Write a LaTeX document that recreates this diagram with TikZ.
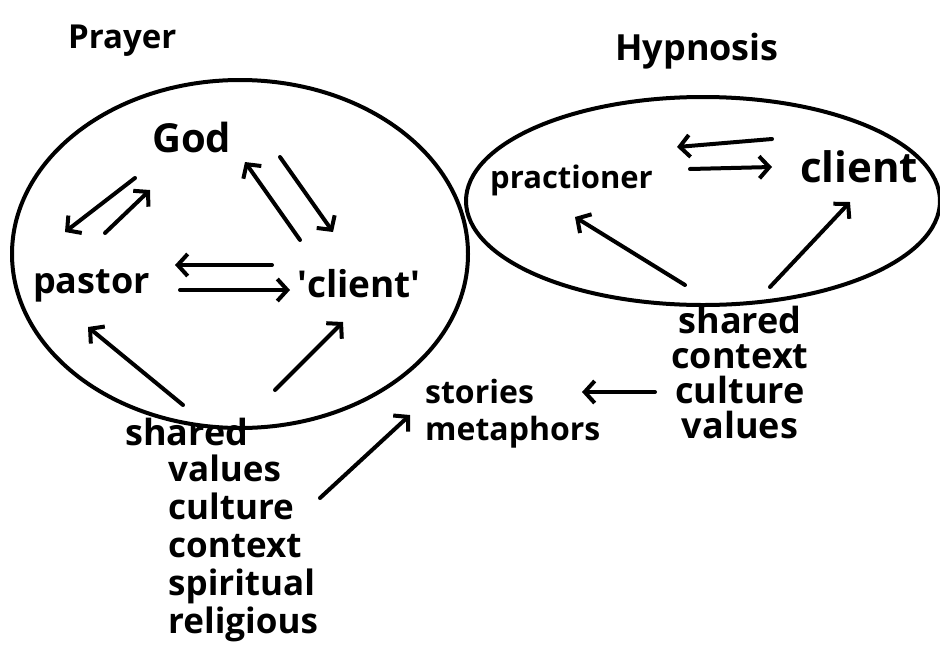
\documentclass[tikz,border=0pt]{standalone}
\usepackage{fontspec}
\setmainfont{Open Sans}
\usepackage{tikz}
\usetikzlibrary{positioning, arrows.meta}

\tikzset{
    hand/.style={line width=4pt, line cap=round, line join=round},
    arr/.style={hand, -{Straight Barb[length=10pt,width=22pt]}},
    word/.style={inner sep=0pt, anchor=base west},
}

\begin{document}
\begin{tikzpicture}[x=1pt,y=-1pt]
        \useasboundingbox (0,0) rectangle (940,646);
        % the two circles
        \draw[hand] (240,254) ellipse [x radius=228pt, y radius=174pt];
        \draw[hand] (703,201) ellipse [x radius=237pt, y radius=104pt];
        % titles
        \node[word, font=\bfseries\fontsize{33}{36}\selectfont] (prayer) at (68,48) {Prayer};
        \node[word, font=\bfseries\fontsize{36}{40}\selectfont] (hypnosis) at (615,60) {Hypnosis};
        % prayer
        \node[word, font=\bfseries\fontsize{40}{44}\selectfont] (god) at (152,152) {God};
        \node[word, font=\bfseries\fontsize{36}{39}\selectfont] (pastor) at (33,293) {pastor};
        \node[word, font=\bfseries\fontsize{37}{40}\selectfont] (lclient) at (297,297)
            {\textquotesingle client\textquotesingle};
        \node[word, font=\bfseries\fontsize{36}{40}\selectfont] (lshared) at (125,445) {shared};
        % base of a multi-line node = its last line
        \node[word, align=left, font=\bfseries\fontsize{35}{38}\selectfont] (llist) at (168,633)
            {values\\culture\\context\\spiritual\\religious};
        % hypnosis
        \node[word, font=\bfseries\fontsize{31}{35}\selectfont] (prac) at (490,188) {practioner};
        \node[word, font=\bfseries\fontsize{42}{46}\selectfont] (rclient) at (800,182) {client};
        \node[inner sep=0pt, anchor=base, align=center, font=\bfseries\fontsize{36}{35}\selectfont] (rshared) at (740,438)
            {shared\\context\\culture\\values};
        \node[word, align=left, font=\bfseries\fontsize{32}{37}\selectfont] (stories) at (425,440)
            {stories\\metaphors};
        \path[arr]
        ([shift={(-17,26)}]god.base west) edge ([shift={(32,-61)}]pastor.base west)
        ([shift={(72,-60)}]pastor.base west) edge ([shift={(-2,38)}]god.base west)
        ([shift={(3,-57)}]lclient.base west) edge ([shift={(93,10)}]god.base west)
        ([shift={(128,5)}]god.base west) edge ([shift={(36,-65)}]lclient.base west)
        ([shift={(-25,-32)}]lclient.base west) edge ([shift={(142,-28)}]pastor.base west)
        ([shift={(147,-3)}]pastor.base west) edge ([shift={(-7,-7)}]lclient.base west)
        ([shift={(58,-40)}]lshared.base west) edge ([shift={(55,34)}]pastor.base west)
        ([shift={(150,-55)}]lshared.base west) edge ([shift={(46,25)}]lclient.base west)
        ([shift={(152,-135)}]llist.base west) edge ([shift={(-15,-25)}]stories.base west)
        ([shift={(-85,-46)}]rshared.base) edge ([shift={(157,-48)}]stories.base west)
        ([shift={(-28,-43)}]rclient.base west) edge ([shift={(187,-41)}]prac.base west)
        ([shift={(200,-19)}]prac.base west) edge ([shift={(-28,-15)}]rclient.base west)
        ([shift={(-55,-153)}]rshared.base) edge ([shift={(85,29)}]prac.base west)
        ([shift={(30,-151)}]rshared.base) edge ([shift={(50,20)}]rclient.base west);
\end{tikzpicture}
\end{document}
